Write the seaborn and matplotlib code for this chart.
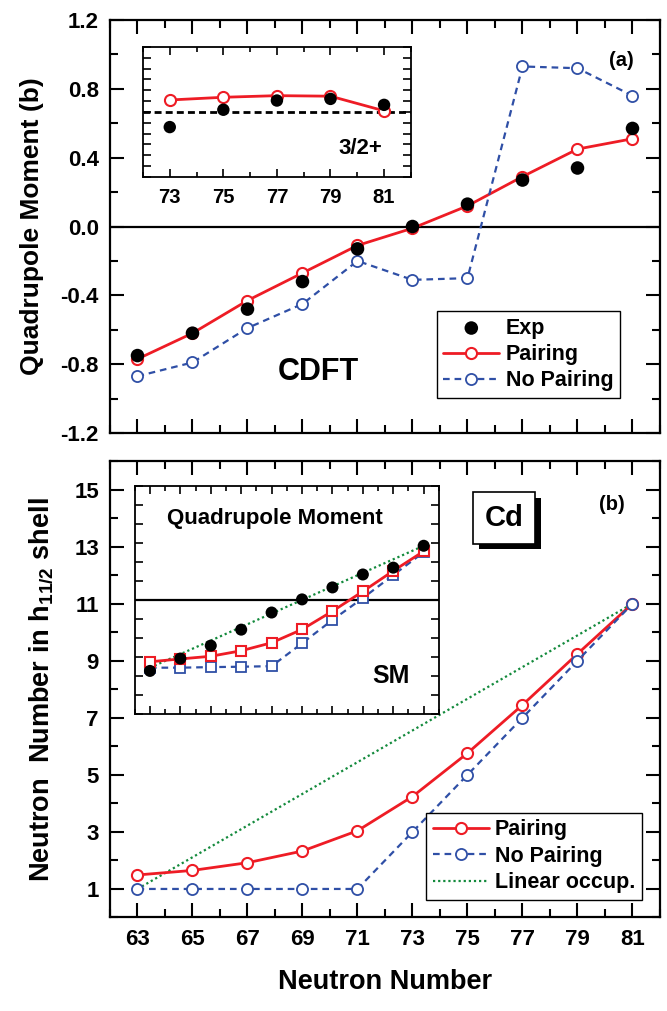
import matplotlib
matplotlib.use('Agg')
import matplotlib.pyplot as plt
import matplotlib.patheffects as pe
import pandas as pd
import seaborn as sns

# Data
neutron = [63, 65, 67, 69, 71, 73, 75, 77, 79, 81]

qm_exp = [-0.75, -0.62, -0.48, -0.32, -0.13, 0.00, 0.13, 0.27, 0.34, 0.57]
qm_pair = [-0.77, -0.62, -0.43, -0.27, -0.11, -0.01, 0.12, 0.29, 0.45, 0.51]
qm_nopair = [-0.87, -0.79, -0.59, -0.45, -0.20, -0.31, -0.30, 0.93, 0.92, 0.76]

# inset (a): 3/2+ states, arbitrary units
ins_a_n = [73, 75, 77, 79, 81]
ins_a_pair = [7.1, 7.35, 7.5, 7.45, 6.1]
ins_a_exp = [4.6, 6.2, 7.05, 7.2, 6.65]
ins_a_ref = 6.0

occ_pair = [1.49, 1.65, 1.92, 2.33, 3.04, 4.24, 5.76, 7.45, 9.24, 11.0]
occ_nopair = [1, 1, 1, 1, 1, 3, 5, 7, 9, 11]
linear_n = [63, 81]
linear_occ = [1, 11]

# inset (b): shell model quadrupole moments, arbitrary units
ins_b_exp = [2.26, 2.91, 3.59, 4.43, 5.33, 6.02, 6.65, 7.33, 7.69, 8.84]
ins_b_pair = [2.74, 2.89, 3.03, 3.32, 3.74, 4.44, 5.40, 6.44, 7.52, 8.55]
ins_b_nopair = [2.43, 2.43, 2.46, 2.48, 2.51, 3.71, 4.94, 6.09, 7.30, 8.50]
ins_b_linear = [2.43, 8.84]
ins_b_ref = 6.0

odd_ticks = list(range(63, 82, 2))
even_ticks = list(range(62, 83, 2))

RED = '#ee1c25'
BLUE = '#2f4fa6'
GREEN = '#138a3c'

sns.set_style('ticks')
plt.rcParams['font.family'] = ['Liberation Sans', 'DejaVu Sans']
plt.rcParams['font.weight'] = 'bold'
plt.rcParams['axes.labelweight'] = 'bold'
plt.rcParams['text.color'] = 'black'
plt.rcParams['axes.labelcolor'] = 'black'
plt.rcParams['xtick.color'] = 'black'
plt.rcParams['ytick.color'] = 'black'
plt.rcParams['axes.unicode_minus'] = False
plt.rcParams['mathtext.fontset'] = 'custom'
plt.rcParams['mathtext.rm'] = 'Liberation Sans:bold'
plt.rcParams['mathtext.it'] = 'Liberation Sans:bold'
plt.rcParams['mathtext.default'] = 'rm'

df_a = pd.DataFrame({'n': neutron, 'exp': qm_exp, 'pair': qm_pair, 'nopair': qm_nopair})
df_ia = pd.DataFrame({'n': ins_a_n, 'exp': ins_a_exp, 'pair': ins_a_pair})
df_b = pd.DataFrame({'n': neutron, 'pair': occ_pair, 'nopair': occ_nopair})
df_lin = pd.DataFrame({'n': linear_n, 'occ': linear_occ, 'ins': ins_b_linear})
df_ib = pd.DataFrame({'n': neutron, 'exp': ins_b_exp, 'pair': ins_b_pair, 'nopair': ins_b_nopair})

fig = plt.figure(figsize=(6.67, 10.11), dpi=100)
ax1 = fig.add_axes([0.1649, 0.5717, 0.8246, 0.4085])
ax2 = fig.add_axes([0.1649, 0.0925, 0.8246, 0.4515])


def style_main(ax):
    for s in ax.spines.values():
        s.set_linewidth(1.6)
        s.set_color('black')
    ax.tick_params(which='both', direction='in', top=True, right=True, width=1.5, colors='black')
    ax.tick_params(which='major', length=10, labelsize=16)
    ax.tick_params(which='minor', length=5.5)
    ax.set_xticks(odd_ticks)
    ax.set_xticks(even_ticks, minor=True)
    ax.set_xlim(62, 82)


def style_inset(ax, lo, hi):
    for s in ax.spines.values():
        s.set_linewidth(1.3)
        s.set_color('black')
    ax.set_facecolor('white')
    ax.tick_params(which='both', direction='in', top=True, right=True, width=1.2, colors='black')
    ax.tick_params(which='major', length=6)
    ax.tick_params(which='minor', length=3.5)
    ax.tick_params(axis='y', which='both', length=5.5)
    ax.set_xticks([t for t in odd_ticks if lo < t < hi])
    ax.set_xticks([t for t in even_ticks if lo <= t <= hi], minor=True)
    ax.set_xlim(lo, hi)
    ax.set_yticks(range(0, 13))
    ax.set_ylim(0, 12)
    ax.tick_params(labelleft=False)


# ---- panel (a)
style_main(ax1)
ax1.set_ylim(-1.2, 1.2)
ax1.set_yticks([-1.2, -0.8, -0.4, 0.0, 0.4, 0.8, 1.2])
ax1.set_yticks([-1.0, -0.6, -0.2, 0.2, 0.6, 1.0], minor=True)
ax1.set_yticklabels(['-1.2', '-0.8', '-0.4', '0.0', '0.4', '0.8', '1.2'])
ax1.tick_params(axis='y', pad=8)
ax1.tick_params(axis='x', labelbottom=False)
ax1.axhline(0, color='black', lw=1.6, zorder=1)

sns.lineplot(data=df_a, x='n', y='pair', ax=ax1, color=RED, lw=2, marker='o', markersize=8,
             markerfacecolor='white', markeredgecolor=RED, markeredgewidth=1.5, label='Pairing', zorder=3)
sns.lineplot(data=df_a, x='n', y='nopair', ax=ax1, color=BLUE, lw=1.6, linestyle=(0, (3, 2.2)), marker='o',
             markersize=8, markerfacecolor='white', markeredgecolor=BLUE, markeredgewidth=1.3,
             label='No Pairing', zorder=3)
sns.scatterplot(data=df_a, x='n', y='exp', ax=ax1, color='black', s=95, edgecolor='none', label='Exp', zorder=4)
ax1.set_xlabel('')
ax1.set_ylabel('Quadrupole Moment (b)', fontsize=19)
ax1.yaxis.set_label_coords(-0.12, 0.5)

h, l = ax1.get_legend_handles_labels()
order = [l.index('Exp'), l.index('Pairing'), l.index('No Pairing')]
leg = ax1.legend([h[i] for i in order], [l[i] for i in order], loc='lower right',
                 bbox_to_anchor=(0.927, 0.085), borderaxespad=0, fancybox=False, edgecolor='black',
                 framealpha=1, fontsize=15.5, handlelength=2.6, handletextpad=0.3, labelspacing=0.25,
                 borderpad=0.3)
leg.get_frame().set_linewidth(1.0)

ax1.text(0.378, 0.148, 'CDFT', transform=ax1.transAxes, fontsize=22, ha='center', va='center')
ax1.text(0.93, 0.903, '(a)', transform=ax1.transAxes, fontsize=14.5, ha='center', va='center')

ia = ax1.inset_axes([0.06, 0.62, 0.487, 0.315])
style_inset(ia, 72, 82)
ia.axhline(ins_a_ref, color='black', lw=2, linestyle=(0, (2.5, 1.5)), zorder=1)
sns.lineplot(data=df_ia, x='n', y='pair', ax=ia, color=RED, lw=2, marker='o', markersize=8,
             markerfacecolor='white', markeredgecolor=RED, markeredgewidth=1.5, zorder=3)
sns.scatterplot(data=df_ia, x='n', y='exp', ax=ia, color='black', s=80, edgecolor='none', zorder=4)
ia.set_xlabel('')
ia.set_ylabel('')
ia.tick_params(axis='x', labelsize=14.5, pad=8)
ia.text(0.81, 0.22, '3/2+', transform=ia.transAxes, fontsize=16, ha='center', va='center')

# ---- panel (b)
style_main(ax2)
ax2.set_ylim(0, 16)
ax2.set_yticks([1, 3, 5, 7, 9, 11, 13, 15])
ax2.set_yticks(range(0, 17, 2), minor=True)
ax2.tick_params(axis='y', pad=8)
ax2.tick_params(axis='x', pad=8)

sns.lineplot(data=df_lin, x='n', y='occ', ax=ax2, color=GREEN, lw=1.6, linestyle=(0, (1, 1.3)),
             label='Linear occup.', zorder=2)
sns.lineplot(data=df_b, x='n', y='pair', ax=ax2, color=RED, lw=2, marker='o', markersize=8,
             markerfacecolor='white', markeredgecolor=RED, markeredgewidth=1.5, label='Pairing', zorder=3)
sns.lineplot(data=df_b, x='n', y='nopair', ax=ax2, color=BLUE, lw=1.6, linestyle=(0, (3, 2.2)), marker='o',
             markersize=8, markerfacecolor='white', markeredgecolor=BLUE, markeredgewidth=1.3,
             label='No Pairing', zorder=3)
ax2.set_xlabel('Neutron Number', fontsize=19.5, labelpad=14)
ax2.set_ylabel('Neutron  Number in h$_{11/2}$ shell', fontsize=19.5)
ax2.yaxis.set_label_coords(-0.1, 0.5)

h, l = ax2.get_legend_handles_labels()
order = [l.index('Pairing'), l.index('No Pairing'), l.index('Linear occup.')]
leg2 = ax2.legend([h[i] for i in order], [l[i] for i in order], loc='lower right',
                  bbox_to_anchor=(0.967, 0.039), borderaxespad=0, fancybox=False, edgecolor='black',
                  framealpha=1, fontsize=15.5, handlelength=2.6, handletextpad=0.3, labelspacing=0.25,
                  borderpad=0.3)
leg2.get_frame().set_linewidth(1.0)

cd = ax2.text(0.717, 0.875, 'Cd', transform=ax2.transAxes, fontsize=21, ha='center', va='center',
              bbox=dict(boxstyle='square,pad=0.4', fc='white', ec='black', lw=1.2))
cd.get_bbox_patch().set_path_effects([pe.SimplePatchShadow(offset=(4, -4), shadow_rgbFace='black', alpha=1.0),
                                      pe.Normal()])
ax2.text(0.913, 0.904, '(b)', transform=ax2.transAxes, fontsize=14.5, ha='center', va='center')

ib = ax2.inset_axes([0.045, 0.446, 0.553, 0.50])
style_inset(ib, 62, 82)
ib.tick_params(labelbottom=False)
ib.axhline(ins_b_ref, color='black', lw=1.6, zorder=1)
sns.lineplot(data=df_lin, x='n', y='ins', ax=ib, color=GREEN, lw=1.6, linestyle=(0, (1, 1.3)), zorder=2)
sns.lineplot(data=df_ib, x='n', y='nopair', ax=ib, color=BLUE, lw=1.6, linestyle=(0, (3, 2.2)), marker='s',
             markersize=6.5, markerfacecolor='white', markeredgecolor=BLUE, markeredgewidth=1.3, zorder=3)
sns.lineplot(data=df_ib, x='n', y='pair', ax=ib, color=RED, lw=2, marker='s', markersize=6.5,
             markerfacecolor='white', markeredgecolor=RED, markeredgewidth=1.5, zorder=3)
sns.scatterplot(data=df_ib, x='n', y='exp', ax=ib, color='black', s=75, edgecolor='none', zorder=4)
ib.set_xlabel('')
ib.set_ylabel('')
ib.text(0.46, 0.857, 'Quadrupole Moment', transform=ib.transAxes, fontsize=16, ha='center', va='center')
ib.text(0.843, 0.167, 'SM', transform=ib.transAxes, fontsize=18, ha='center', va='center')

fig.savefig('out.png', dpi=100)
